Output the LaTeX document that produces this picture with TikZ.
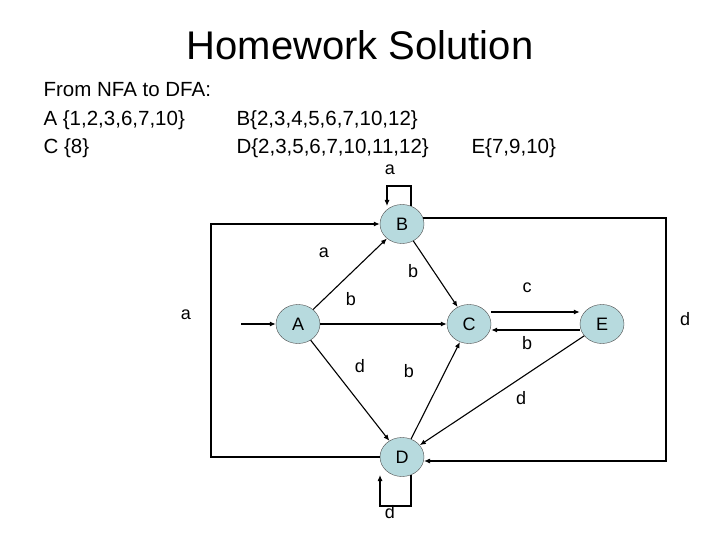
\documentclass[tikz,border=0pt]{standalone}
\usepackage{fontspec}
\setmainfont{Liberation Sans}
\usetikzlibrary{arrows.meta,shapes.geometric}
\definecolor{st}{RGB}{183,218,222}
\begin{document}
\begin{tikzpicture}[x=1pt,y=-1pt,
  state/.style={ellipse,draw=black!70,fill=st,minimum width=44pt,minimum height=39pt,inner sep=0pt,font=\fontsize{18}{20}\selectfont},
  edge/.style={draw,line width=1.1pt,-{Latex[length=6pt,width=5pt]}},
  lbl/.style={font=\fontsize{18}{20}\selectfont},
  txt/.style={anchor=west,font=\fontsize{20.5}{24}\selectfont}]
\useasboundingbox (0,0) rectangle (720,540);
\node (title) at (360,45) {\fontsize{40}{46}\selectfont Homework Solution};
\node[txt] (t1) at (40,90) {From NFA to DFA:};
\node[txt] (t2) at (40,120) {A \{1,2,3,6,7,10\}};
\node[txt] (t3) at (233,120) {B\{2,3,4,5,6,7,10,12\}};
\node[txt] (t4) at (40,148) {C \{8\}};
\node[txt] (t5) at (233,148) {D\{2,3,5,6,7,10,11,12\}};
\node[txt] (t6) at (468,148) {E\{7,9,10\}};
\node[state] (B) at (402,224) {B};
\node[state] (A) at (298,324) {A};
\node[state] (C) at (469,324) {C};
\node[state] (E) at (602,324) {E};
\node[state] (D) at (402,457) {D};
\coordinate (in) at (241,324);
\draw[edge] (in) -- (A);
\draw[edge] (A) -- (B);
\draw[edge] (A) -- (C);
\draw[edge] (A) -- (D);
\draw[edge] (B) -- (C);
\draw[edge] (D) -- (C);
\draw[edge] (C.east|-0,312) -- (E.west|-0,312);
\draw[edge] (E.west|-0,330) -- (C.east|-0,330);
\draw[edge] (E) -- (D);
\draw[edge] (411,206) -- (411,186) -- (387,186) -- (387,206);
\draw[edge] (411,475) -- (411,506) -- (380,506) -- (380,475);
\draw[edge] (D.west) -- (211,457) -- (211,224) -- (B.west);
\draw[edge] (423,218) -- (666,218) -- (666,461) -- (424,461);
\node[lbl] (la) at (390,170) {a};
\node[lbl] (l1) at (324,253) {a};
\node[lbl] (l2) at (413,271) {b};
\node[lbl] (l3) at (351,299) {b};
\node[lbl] (l4) at (527,288) {c};
\node[lbl] (l5) at (527,343) {b};
\node[lbl] (l6) at (360,366) {d};
\node[lbl] (l7) at (409,371) {b};
\node[lbl] (l8) at (521,398) {d};
\node[lbl] (l9) at (390,512) {d};
\node[lbl] (l10) at (186,315) {a};
\node[lbl] (l11) at (685,319) {d};
\end{tikzpicture}
\end{document}
